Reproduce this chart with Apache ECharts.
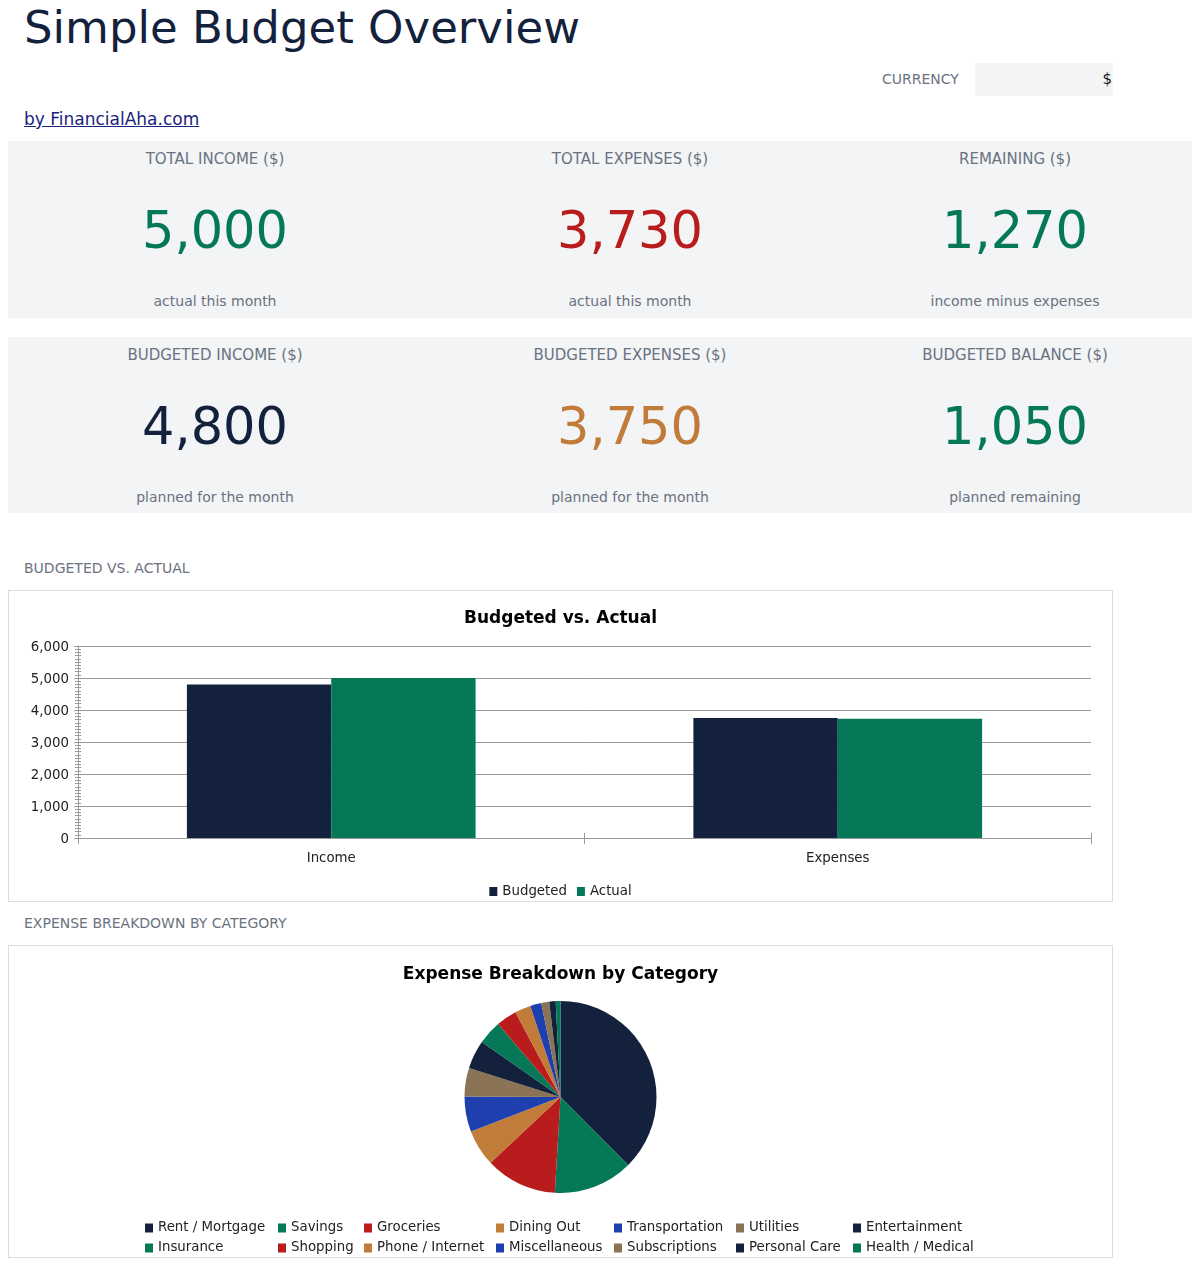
<!DOCTYPE html>
<html>
<head>
<meta charset="utf-8">
<script src="https://cdn.jsdelivr.net/npm/echarts@6/dist/echarts.min.js"></script>
<style>
  html, body { margin:0; padding:0; background:#fff; }
  body { width:1200px; height:1266px; position:relative; font-family:'DejaVu Sans', sans-serif; overflow:hidden; }
  .abs { position:absolute; white-space:nowrap; }
  .card { position:absolute; left:8px; width:1184px; background:#f2f4f6; }
  .klabel { position:absolute; width:400px; text-align:center; font-size:15px; line-height:15px; color:#6b7280; }
  .kval { position:absolute; width:400px; text-align:center; font-size:51px; line-height:51px; }
  .knote { position:absolute; width:400px; text-align:center; font-size:14px; line-height:14px; color:#6b7280; }
  .section { position:absolute; left:24px; font-size:14px; line-height:14px; color:#6b7280; }
  .chartbox { position:absolute; left:8px; width:1105px; border:1px solid #dcdcdc; box-sizing:border-box; }
</style>
</head>
<body>
<div class="abs" style="left:24px;top:5px;font-size:45px;line-height:45px;color:#14213d;">Simple Budget Overview</div>
<div class="abs" style="left:882px;top:72px;font-size:14px;line-height:14px;color:#6b7280;">CURRENCY</div>
<div class="abs" style="left:975px;top:63px;width:138px;height:33px;background:#f2f4f6;"></div>
<div class="abs" style="left:975px;top:71px;width:137px;text-align:right;font-size:15px;line-height:17px;color:#222;">$</div>
<div class="abs" style="left:24px;top:111px;font-size:17px;line-height:17px;color:#1a237e;text-decoration:underline;">by FinancialAha.com</div>

<div class="card" id="card1" style="top:141px;height:177px;"></div>
<div class="card" id="card2" style="top:337px;height:176px;"></div>

<div class="section" style="top:561px;">BUDGETED VS. ACTUAL</div>
<div class="chartbox" id="barBox" style="top:590px;height:312px;"></div>
<div class="section" style="top:916px;">EXPENSE BREAKDOWN BY CATEGORY</div>
<div class="chartbox" id="pieBox" style="top:945px;height:313px;"></div>

<script>
// ---- data ----
const kpiLabels = ['TOTAL INCOME ($)', 'TOTAL EXPENSES ($)', 'REMAINING ($)', 'BUDGETED INCOME ($)', 'BUDGETED EXPENSES ($)', 'BUDGETED BALANCE ($)'];
const kpiValues = [5000, 3730, 1270, 4800, 3750, 1050];
const kpiNotes = ['actual this month', 'actual this month', 'income minus expenses', 'planned for the month', 'planned for the month', 'planned remaining'];
const kpiColors = ['#047857', '#b91c1c', '#047857', '#14213d', '#c27c3a', '#047857'];

const barCategories = ['Income', 'Expenses'];
const budgetedValues = [4800, 3750];
const actualValues = [5000, 3730];
const barSeriesNames = ['Budgeted', 'Actual'];

const expenseCategories = ['Rent / Mortgage', 'Savings', 'Groceries', 'Dining Out', 'Transportation', 'Utilities', 'Entertainment',
  'Insurance', 'Shopping', 'Phone / Internet', 'Miscellaneous', 'Subscriptions', 'Personal Care', 'Health / Medical'];
const expenseValues = [1400, 500, 450, 230, 220, 180, 180, 150, 130, 100, 70, 50, 40, 30];

const palette = ['#14213d', '#047857', '#b91c1c', '#c27c3a', '#1e40af', '#8b7355'];
const FONT = 'DejaVu Sans';
const fmt = v => Number(v).toLocaleString('en-US');

// ---- KPI cards ----
const colCenters = [207, 622, 1007];
function fillCard(el, offset) {
  for (let i = 0; i < 3; i++) {
    const k = offset + i;
    const left = (colCenters[i] - 200) + 'px';
    const a = document.createElement('div'); a.className = 'klabel'; a.style.left = left; a.style.top = '11px'; a.textContent = kpiLabels[k]; el.appendChild(a);
    const b = document.createElement('div'); b.className = 'kval'; b.style.left = left; b.style.top = '64px'; b.style.color = kpiColors[k]; b.textContent = fmt(kpiValues[k]); el.appendChild(b);
    const c = document.createElement('div'); c.className = 'knote'; c.style.left = left; c.style.top = '153px'; c.textContent = kpiNotes[k]; el.appendChild(c);
  }
}
fillCard(document.getElementById('card1'), 0);
fillCard(document.getElementById('card2'), 3);

// ---- bar chart ----
const bar = echarts.init(document.getElementById('barBox'));
const gridLine = '#9a9a9a';
bar.setOption({
  animation: false,
  textStyle: { fontFamily: FONT },
  title: { text: 'Budgeted vs. Actual', left: 'center', top: 14, textStyle: { fontFamily: FONT, fontSize: 17, fontWeight: 'bold', color: '#000' } },
  legend: { data: barSeriesNames, top: 294, left: 'center', padding: 0, icon: 'rect', itemWidth: 8, itemHeight: 9, itemGap: 10,
    textStyle: { fontFamily: FONT, fontSize: 13.33, color: '#222' } },
  grid: { left: 69, right: 21, top: 55, bottom: 63 },
  xAxis: [
    { type: 'category', data: barCategories, position: 'bottom',
      axisLine: { lineStyle: { color: gridLine } },
      axisTick: { show: true, length: 6, lineStyle: { color: gridLine } },
      axisLabel: { fontFamily: FONT, fontSize: 13.33, color: '#222', margin: 14 } },
    { type: 'category', data: barCategories, position: 'bottom',
      axisLine: { show: false }, axisTick: { show: true, inside: true, length: 5, lineStyle: { color: gridLine } },
      axisLabel: { show: false }, splitLine: { show: false } }
  ],
  yAxis: [
    { type: 'value', min: 0, max: 6000, interval: 1000, position: 'left',
      axisLine: { show: true, lineStyle: { color: gridLine } },
      axisTick: { show: true, length: 4, lineStyle: { color: gridLine } },
      minorTick: { show: true, splitNumber: 10, length: 3, lineStyle: { color: gridLine } },
      splitLine: { show: true, lineStyle: { color: gridLine, width: 1 } },
      axisLabel: { formatter: v => '{a|' + fmt(v) + '}', margin: 9,
        rich: { a: { fontFamily: FONT, fontSize: 13.33, color: '#222', padding: [4, 0, 0, 0] } } } },
    { type: 'value', min: 0, max: 6000, interval: 1000, position: 'left',
      axisLine: { show: false },
      axisTick: { show: true, inside: true, length: 3, lineStyle: { color: gridLine } },
      minorTick: { show: true, splitNumber: 10, length: 3, lineStyle: { color: gridLine } },
      splitLine: { show: false }, axisLabel: { show: false } }
  ],
  series: [
    { name: barSeriesNames[0], type: 'bar', xAxisIndex: 0, yAxisIndex: 0, data: budgetedValues,
      itemStyle: { color: '#14213d' }, barGap: '0%', barCategoryGap: '43%' },
    { name: barSeriesNames[1], type: 'bar', xAxisIndex: 0, yAxisIndex: 0, data: actualValues,
      itemStyle: { color: '#047857' }, barGap: '0%', barCategoryGap: '43%' }
  ]
});

// ---- pie chart ----
const pie = echarts.init(document.getElementById('pieBox'));
const legendCols = [136, 269, 355, 487, 605, 727, 844];
const legends = legendCols.map((x, i) => ({
  orient: 'vertical', left: x, top: 275, padding: 0, icon: 'rect', itemWidth: 8, itemHeight: 9, itemGap: 6,
  data: [expenseCategories[i], expenseCategories[i + 7]],
  textStyle: { fontFamily: FONT, fontSize: 13.33, color: '#222', lineHeight: 14 }
}));
pie.setOption({
  animation: false,
  color: palette,
  textStyle: { fontFamily: FONT },
  title: { text: 'Expense Breakdown by Category', left: 'center', top: 15, textStyle: { fontFamily: FONT, fontSize: 17, fontWeight: 'bold', color: '#000' } },
  legend: legends,
  series: [{
    type: 'pie', center: ['50%', 151], radius: 96, startAngle: 90, clockwise: true,
    label: { show: false }, labelLine: { show: false },
    itemStyle: { borderWidth: 0 },
    data: expenseCategories.map((n, i) => ({ name: n, value: expenseValues[i] }))
  }]
});
</script>
</body>
</html>
